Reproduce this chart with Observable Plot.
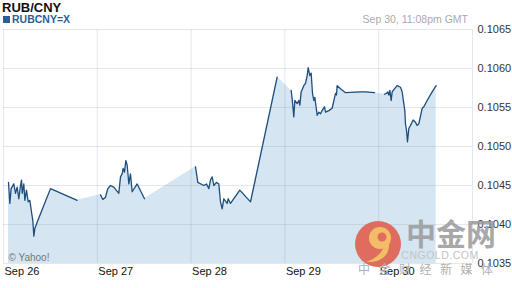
<!DOCTYPE html>
<html>
<head>
<meta charset="utf-8">
<script src="https://cdn.jsdelivr.net/npm/d3@7"></script>
<script src="https://cdn.jsdelivr.net/npm/@observablehq/plot@0.6"></script>
<style>
  body { margin: 0; background: #fff; }
  #wrap { position: relative; width: 512px; height: 288px; overflow: hidden; font-family: "Liberation Sans", Arial, sans-serif; }
  #chart { position: absolute; left: 0; top: 0; }
  .ov { position: absolute; white-space: nowrap; }
</style>
</head>
<body>
<div id="wrap">
  <div id="chart"></div>
  <div class="ov" style="left:2px;top:0px;font-size:13px;font-weight:bold;color:#111;">RUB/CNY</div>
  <div class="ov" style="left:3px;top:16px;width:7px;height:7px;background:#2a5f96;"></div>
  <div class="ov" style="left:12px;top:13px;font-size:10.5px;font-weight:bold;color:#2a5f96;">RUBCNY=X</div>
  <div class="ov" style="right:44px;top:13px;font-size:10.5px;color:#aaa;">Sep 30, 11:08pm GMT</div>
</div>
<script>
// Series (hours after Sep 26 00:00 GMT, RUB/CNY rate)
const seg1Hours = [1.28,1.62,1.96,2.64,3.07,3.50,3.92,4.35,4.61,4.78,5.20,5.46,5.88,6.31,6.74,7.16,7.50,7.76,8.02,8.61,12.03,18.85];
const seg1Rates = [0.10454,0.10427,0.10446,0.10452,0.10440,0.10448,0.10433,0.10450,0.10457,0.10440,0.10452,0.10431,0.10444,0.10429,0.10431,0.10416,0.10405,0.10385,0.10395,0.10403,0.10446,0.10431];
const seg2Hours = [24.82,25.41,26.10,26.69,27.38,28.23,29.51,29.94,30.36,30.62,30.96,31.30,31.64,32.07,32.49,32.92,34.20,36.08];
const seg2Rates = [0.10438,0.10432,0.10435,0.10446,0.10450,0.10448,0.10440,0.10461,0.10465,0.10472,0.10467,0.10482,0.10476,0.10452,0.10465,0.10442,0.10452,0.10433];
const seg3Hours = [49.13,49.72,51.26,51.94,52.54,52.96,53.39,53.82,54.50,55.09,55.52,55.95,56.37,57.23,57.48,58.08,60.47,63.20,70.02];
const seg3Rates = [0.10474,0.10454,0.10450,0.10452,0.10446,0.10457,0.10461,0.10450,0.10454,0.10452,0.10429,0.10420,0.10433,0.10427,0.10433,0.10427,0.10444,0.10429,0.10589];
const seg4Hours = [73.60,73.86,74.28,74.54,75.14,75.56,75.82,76.16,76.84,77.27,77.70,77.96,78.38,78.72,79.06,79.40,79.66,80.26,80.68,81.11,81.53,82.13,82.39,83.24,84.09,84.95,85.20,85.37,86.22,87.50,91.34,92.62,94.92];
const seg4Rates = [0.10572,0.10561,0.10538,0.10559,0.10555,0.10559,0.10553,0.10570,0.10578,0.10581,0.10591,0.10601,0.10591,0.10594,0.10568,0.10559,0.10563,0.10540,0.10544,0.10542,0.10546,0.10551,0.10544,0.10546,0.10549,0.10568,0.10566,0.10578,0.10574,0.10569,0.10570,0.10570,0.10569];
const seg5Hours = [97.48,97.99,98.34,98.59,98.85,99.19,99.45,99.87,100.72,101.58,102.00,102.43,102.68,102.85,103.11,103.36,103.71,104.13,104.81,105.41,105.84,106.27,107.12,107.55,108.40,109.68,110.70];
const seg5Rates = [0.10567,0.10568,0.10570,0.10566,0.10572,0.10559,0.10570,0.10573,0.10578,0.10576,0.10570,0.10555,0.10546,0.10529,0.10521,0.10506,0.10523,0.10527,0.10534,0.10531,0.10527,0.10529,0.10549,0.10551,0.10559,0.10570,0.10578];

const dayLabels = ["Sep 26","Sep 27","Sep 28","Sep 29","Sep 30"];
const rateTicks = [0.1035,0.1040,0.1045,0.1050,0.1055,0.1060,0.1065];

const start = Date.UTC(2013, 8, 26);
const toDate = h => new Date(start + h * 3600e3);
const segments = [[seg1Hours,seg1Rates],[seg2Hours,seg2Rates],[seg3Hours,seg3Rates],[seg4Hours,seg4Rates],[seg5Hours,seg5Rates]];
const data = [];
segments.forEach(([hs, rs], s) => hs.forEach((h, i) => data.push({t: toDate(h), v: rs[i], s})));
const dayTicks = d3.range(6).map(d => toDate(d * 24));
const labelTicks = dayTicks.slice(0, 5);

const chart = Plot.plot({
  width: 512,
  height: 288,
  marginLeft: 3,
  marginRight: 40,
  marginTop: 29,
  marginBottom: 25,
  style: {fontFamily: "'Liberation Sans', Arial, sans-serif", fontSize: "11px", color: "#333", background: "transparent"},
  x: {type: "utc", domain: [dayTicks[0], dayTicks[5]]},
  y: {domain: [0.1035, 0.1065]},
  marks: [
    Plot.areaY(data, {x: "t", y1: 0.1035, y2: "v", fill: "#d5e5f1"}),
    Plot.gridY(rateTicks, {stroke: "#7a8aa5", strokeOpacity: 0.2}),
    Plot.gridX(dayTicks, {stroke: "#7a8aa5", strokeOpacity: 0.2}),
    Plot.lineY(data, {x: "t", y: "v", z: "s", stroke: "#1d4e7d", strokeWidth: 1.3}),
    Plot.axisY(rateTicks, {anchor: "right", tickSize: 0, tickPadding: 5, tickFormat: d3.format(".4f"), fill: "#333", label: null}),
    Plot.axisX(labelTicks, {anchor: "bottom", tickSize: 0, tickPadding: 4, tickFormat: (d, i) => dayLabels[i], textAnchor: "start", dx: 1, fill: "#111", label: null}),
    Plot.text(["© Yahoo!"], {frameAnchor: "bottom-left", dx: 5, dy: -3, fill: "#777", fontSize: 10, textAnchor: "start"})
  ]
});
document.getElementById("chart").appendChild(chart);

// Watermark of the source site (not data)
const ns = "http://www.w3.org/2000/svg";
const wm = document.createElementNS(ns, "g");
wm.innerHTML = `
  <circle cx="378" cy="244" r="23" fill="#df6d5f"/>
  <circle cx="380" cy="238" r="11" fill="#f3bd68"/>
  <circle cx="382" cy="237" r="4.5" fill="#df6d5f"/>
  <path d="M389,243 C390,256 380,263 366,262 C374,259 381,255 384,246 Z" fill="#f3bd68"/>
  <text x="451" y="245" text-anchor="middle" font-family="'Noto Sans CJK SC'" font-weight="bold" font-size="30" fill="#999999" fill-opacity="0.85">中金网</text>
  <text x="440" y="259" text-anchor="middle" font-family="'Liberation Sans', Arial" font-size="10.5" letter-spacing="0.5" fill="#c4c4c4">CNGOLD.COM</text>
  <text x="358 378.5 399 419.5 440 460.5 481" y="274" text-anchor="start" font-family="'Noto Sans CJK SC'" font-size="12" fill="#b0b0b0">中金财经新媒体</text>`;
chart.appendChild(wm);
</script>
</body>
</html>
